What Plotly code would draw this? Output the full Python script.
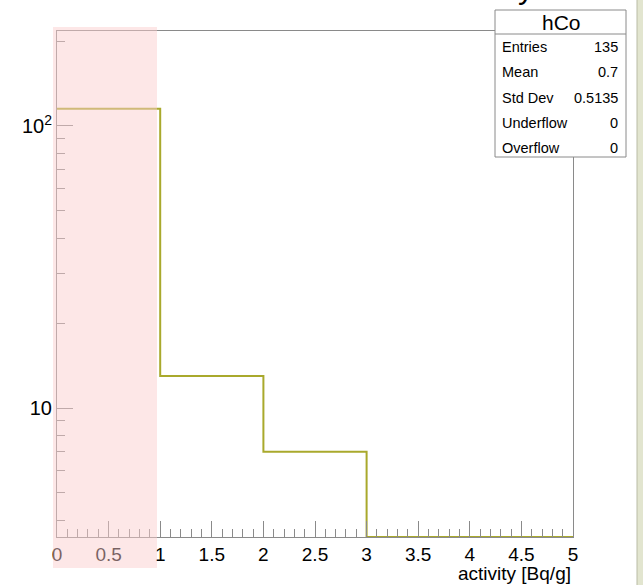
import plotly.graph_objects as go
import math

# ---- data ----
bin_edges = [0, 1, 2, 3, 4, 5]
counts = [115, 13, 7, 0, 0]
hist_name = "hCo"
stat_labels = ["Entries", "Mean", "Std Dev", "Underflow", "Overflow"]
stat_values = ["135", "0.7", "0.5135", "0", "0"]
x_title = "activity [Bq/g]"
y_tickvals = [10, 100]
y_ticktext = ["10", "10<sup>2</sup>"]
y_minor = [4, 5, 6, 7, 8, 9, 20, 30, 40, 50, 60, 70, 80, 90, 200]

# ---- layout geometry (pixels) ----
W, H = 643, 585
L, R, T, B = 57, 573, 31, 537
y_lo, y_hi = 3.49, 217.0
yr = [math.log10(y_lo), math.log10(y_hi)]

def px(xp):
    return (xp - L) / (R - L)

def py(yp):
    return (B - yp) / (B - T)

# zero bins drawn on the axis floor (ROOT style on log scale)
ydraw = [c if c > 0 else y_lo for c in counts]
ydraw = ydraw + [ydraw[-1]]

FONT = "Liberation Sans, Arial, sans-serif"
AX = "#8a8a8a"

fig = go.Figure()
fig.add_trace(go.Scatter(
    x=bin_edges, y=ydraw, mode="lines", line_shape="hv",
    line=dict(color="#a9a92c", width=2), showlegend=False, hoverinfo="skip",
    cliponaxis=False,
))

shapes = []
# right window strip
shapes.append(dict(type="rect", xref="paper", yref="paper",
                   x0=px(637), x1=px(650), y0=py(600), y1=py(-10),
                   fillcolor="#e2e5cf", line=dict(color="#b9bca6", width=1), layer="above"))
# stats box
shapes.append(dict(type="rect", xref="paper", yref="paper",
                   x0=px(495), x1=px(626), y0=py(157), y1=py(10),
                   fillcolor="white", line=dict(color=AX, width=1), layer="above"))
shapes.append(dict(type="line", xref="paper", yref="paper",
                   x0=px(495), x1=px(626), y0=py(34), y1=py(34),
                   line=dict(color=AX, width=1), layer="above"))
# pink highlight overlay
shapes.append(dict(type="rect", xref="paper", yref="paper",
                   x0=px(53), x1=px(157), y0=py(568), y1=py(27),
                   fillcolor="rgba(251,205,205,0.48)", line=dict(width=0), layer="above"))

annotations = []
annotations.append(dict(text=hist_name, xref="paper", yref="paper", x=px(561), y=py(22),
                        xanchor="center", yanchor="middle", showarrow=False,
                        font=dict(family=FONT, size=21, color="black")))
row_y = [47, 72, 97.5, 123, 148]
for lab, val, ry in zip(stat_labels, stat_values, row_y):
    annotations.append(dict(text=lab, xref="paper", yref="paper", x=px(500), y=py(ry),
                            xanchor="left", yanchor="middle", showarrow=False,
                            font=dict(family=FONT, size=14.5, color="black")))
    annotations.append(dict(text=val, xref="paper", yref="paper", x=px(620), y=py(ry),
                            xanchor="right", yanchor="middle", showarrow=False,
                            font=dict(family=FONT, size=14.5, color="black")))
# partially visible title glyph
annotations.append(dict(text="y", xref="paper", yref="paper", x=px(536), y=py(7),
                        xanchor="right", yanchor="bottom", showarrow=False,
                        font=dict(family=FONT, size=32, color="black")))
# x axis title
annotations.append(dict(text=x_title, xref="paper", yref="paper", x=1.0, y=py(573),
                        xanchor="right", yanchor="middle", showarrow=False,
                        font=dict(family=FONT, size=19, color="black")))

fig.update_layout(
    width=W, height=H,
    margin=dict(l=L, r=W - R, t=T, b=H - B),
    paper_bgcolor="white", plot_bgcolor="white",
    shapes=shapes, annotations=annotations,
    font=dict(family=FONT, size=20, color="black"),
    xaxis=dict(range=[0, 5], dtick=0.5, tick0=0, ticks="inside", ticklen=16,
               tickcolor=AX, tickwidth=1, showline=True, linecolor=AX, mirror=True,
               showgrid=False, zeroline=False,
               minor=dict(dtick=0.1, tick0=0, ticks="inside", ticklen=8, tickcolor=AX, showgrid=False),
               tickfont=dict(family=FONT, size=19)),
    yaxis=dict(type="log", range=yr, tickvals=y_tickvals, ticktext=y_ticktext,
               ticks="inside", ticklen=16, tickcolor=AX, tickwidth=1,
               showline=True, linecolor=AX, mirror=True, showgrid=False, zeroline=False,
               minor=dict(tickmode="array", tickvals=y_minor, ticks="inside", ticklen=8,
                          tickcolor=AX, showgrid=False),
               tickfont=dict(family=FONT, size=20)),
)

fig.write_html("out.html", config={"displayModeBar": False},
               post_script="document.body.style.margin='0px';document.body.style.overflow='hidden';")
